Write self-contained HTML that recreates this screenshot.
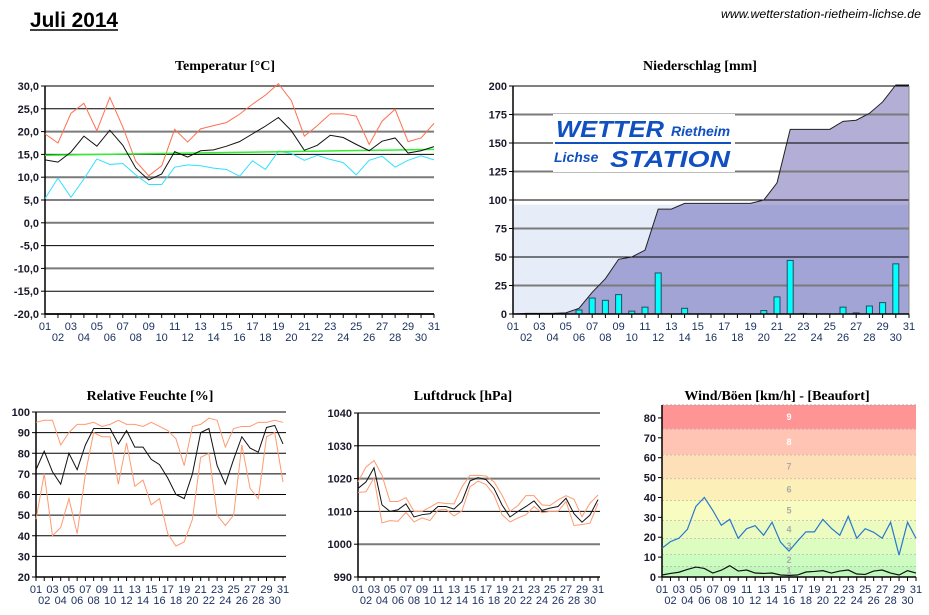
<!DOCTYPE html>
<html><head><meta charset="utf-8"><style>
html,body{margin:0;padding:0;background:#fff;width:929px;height:615px;overflow:hidden}
svg text{font-family:"Liberation Sans",sans-serif}
.t{font-family:"Liberation Serif",serif;font-weight:bold;font-size:14px;fill:#000}
</style></head><body>
<svg id="s" width="929" height="615" xmlns="http://www.w3.org/2000/svg">
<text x="30" y="27" font-size="21" font-weight="bold" fill="#000" textLength="88" lengthAdjust="spacingAndGlyphs">Juli 2014</text>
<line x1="30" y1="30" x2="118" y2="30" stroke="#000" stroke-width="1.5"/>
<text x="921" y="18" font-size="12" font-style="italic" text-anchor="end" fill="#000" textLength="200" lengthAdjust="spacingAndGlyphs">www.wetterstation-rietheim-lichse.de</text>
<text class="t" x="225" y="70" text-anchor="middle">Temperatur [°C]</text>
<text class="t" x="700" y="70" text-anchor="middle">Niederschlag [mm]</text>
<text class="t" x="150" y="400" text-anchor="middle">Relative Feuchte [%]</text>
<text class="t" x="463" y="400" text-anchor="middle">Luftdruck [hPa]</text>
<text class="t" x="777" y="400" text-anchor="middle">Wind/Böen [km/h] - [Beaufort]</text>
<g id="g"></g>
</svg>
<script>
var NS="http://www.w3.org/2000/svg",G=document.getElementById("g");
function el(n,a,t){var e=document.createElementNS(NS,n);for(var k in a)e.setAttribute(k,a[k]);if(t!=null)e.textContent=t;G.appendChild(e);return e;}
function chart(c){
 var X=function(i){return c.x0+(c.x1-c.x0)*i/30};
 var Y=function(v){return c.yb-(c.yb-c.yt)*(v-c.vmin)/(c.vmax-c.vmin)};
 c.X=X;c.Y=Y;
 if(c.bg)c.bg(c);
 var k=0;
 for(var v=c.vmin;v<=c.vmax+1e-9;v+=c.step,k++){
  var y=Y(v);
  if(!c.nogrid){var gray=(k%2==(c.par||0));
   el("line",{x1:c.x0,x2:c.gx1||c.x1,y1:y,y2:y,stroke:gray?"#7a7a7a":"#000","stroke-width":gray?2:1});}
  el("line",{x1:c.x0-4,x2:c.x0,y1:y,y2:y,stroke:"#000"});
  el("text",{x:c.x0-6,y:y+4,"text-anchor":"end","font-size":11,"font-weight":"bold",fill:"#1a1a2a"},c.fmt(v));
 }
 if(c.fg)c.fg(c);
 el("line",{x1:c.x0,x2:c.x0,y1:c.yt,y2:c.yb,stroke:"#000","stroke-width":1.5});
 el("line",{x1:c.x0,x2:c.gx1||c.x1,y1:c.yb,y2:c.yb,stroke:"#000","stroke-width":1.5});
 for(var i=0;i<31;i++){var x=X(i);
  el("line",{x1:x,x2:x,y1:c.yb,y2:c.yb+4,stroke:"#000"});
  var d=(i+1<10?"0":"")+(i+1);
  el("text",{x:x,y:c.yb+(i%2?27:16),"text-anchor":"middle","font-size":c.fs||11,fill:"#1c3260"},d);}
}
function line(c,d,col,w){el("polyline",{points:d.map(function(v,i){return c.X(i)+","+c.Y(v)}).join(" "),fill:"none",stroke:col,"stroke-width":w||1});}
function fmt1(v){return v.toFixed(1).replace(".",",")}
var T={x0:45,x1:434,yt:86,yb:314,vmin:-20,vmax:30,step:5,fmt:fmt1,par:0};
chart(T);
line(T,[19.5,17.5,24,26.2,20.2,27.5,21,13.5,10.3,12.5,20.5,17.7,20.6,21.3,22,23.8,26,28,30.5,26.8,19,21.3,23.9,23.9,23.4,17.2,22.3,24.9,17.8,18.6,21.8],"#ff7050");
line(T,[5.3,9.8,5.6,9.6,14,12.8,13,10.5,8.4,8.4,12.2,12.7,12.5,12,11.7,10.2,13.6,11.7,15.7,15.2,13.7,14.8,13.9,13.2,10.5,13.7,14.6,12.2,13.7,14.7,13.8],"#30e0ff");
el("line",{x1:45,x2:434,y1:T.Y(14.8),y2:T.Y(16.1),stroke:"#30f030","stroke-width":1.5});
line(T,[13.8,13.3,15.5,19,16.8,20.3,17,12,9.4,10.7,15.6,14.4,15.8,16,16.8,17.8,19.5,21.2,23.1,20.2,15.9,17,19.2,18.7,17.2,15.8,17.9,18.6,15.3,15.8,16.7],"#111");
var cum=[0,0.5,0.5,0.5,1,5,19,31,48,50,56,92,92,97,97,97,97,97,97,100,115,162,162,162,162,169,170,176,186,230,260];
var P={x0:513,x1:909,yt:86,yb:314,vmin:0,vmax:200,step:25,fmt:function(v){return ""+v},par:1,
 bg:function(c){
  el("rect",{x:513,y:c.Y(96),width:396,height:c.yb-c.Y(96),fill:"#e6edf8"});
  var pts=cum.map(function(v,i){return c.X(i)+","+Math.max(c.Y(v),c.yt)}).join(" ");
  el("clipPath",{id:"cp"});
  var cp=G.lastChild;var pg=document.createElementNS(NS,"polygon");pg.setAttribute("points",pts+" 909,314 513,314");cp.appendChild(pg);
  el("rect",{x:513,y:86,width:396,height:c.Y(96)-86,fill:"#b2aed6","clip-path":"url(#cp)"});
  el("rect",{x:513,y:c.Y(96),width:396,height:c.yb-c.Y(96),fill:"#a2a4d6","clip-path":"url(#cp)"});
 },
 fg:function(c){
  el("polyline",{points:cum.map(function(v,i){return c.X(i)+","+Math.max(c.Y(v),c.yt-1)}).join(" "),fill:"none",stroke:"#222","stroke-width":1});
  var b={6:3.5,7:14,8:12,9:17,10:2.5,11:6,12:36,14:5,20:3,21:15,22:47,23:0.5,26:6,27:1,28:7,29:10,30:44};
  for(var d in b){var x=c.X(d-1),y=c.Y(b[d]);el("rect",{x:x-3,y:y,width:6,height:c.yb-y,fill:"#00ffff",stroke:"#2a4a5a","stroke-width":1});}
  el("line",{x1:909,x2:909,y1:86,y2:314,stroke:"#888","stroke-width":1});
 }};
chart(P);
el("rect",{x:553,y:114,width:182,height:58,fill:"#fff"});
el("text",{x:556,y:137,"font-size":23,"font-weight":"bold","font-style":"italic",fill:"#1050c0",textLength:108,lengthAdjust:"spacingAndGlyphs"},"WETTER");
el("text",{x:671,y:136,"font-family":"Liberation Serif,serif","font-size":14,"font-weight":"bold","font-style":"italic",fill:"#1050c0"},"Rietheim");
el("line",{x1:555,x2:731,y1:143,y2:143,stroke:"#1050c0","stroke-width":2});
el("text",{x:554,y:162,"font-family":"Liberation Serif,serif","font-size":14,"font-weight":"bold","font-style":"italic",fill:"#1050c0"},"Lichse");
el("text",{x:610,y:167,"font-size":23,"font-weight":"bold","font-style":"italic",fill:"#1050c0",textLength:120,lengthAdjust:"spacingAndGlyphs"},"STATION");
var H={x0:36,x1:283,yt:412,yb:577,vmin:20,vmax:100,step:10,fmt:function(v){return ""+v},par:2,gx1:286};
chart(H);
line(H,[95,96,96,84,90,94,94,95,93,94,96,94,94,93,95,93,91,87,74,93,94,97,96,83,92,93,93,95,95,96,95],"#ff9a70");
line(H,[48,70,40,44,58,41,70,90,88,88,65,85,64,67,55,58,41,35,37,48,78,80,50,45,50,84,63,58,88,90,66],"#ff9a70");
line(H,[72,81,71,65,80,72,84,92,92,92,84.5,91,83,83,77,74.5,68,60,58,70,90,92,74,65,77,88,82.5,80.5,92.5,93.5,84.5],"#111");
var L={x0:358,x1:598,yt:413,yb:577,vmin:990,vmax:1040,step:10,fmt:function(v){return ""+v},par:1,gx1:600};
chart(L);
line(L,[1019,1023.5,1025.5,1021,1013,1013,1014.2,1010,1010,1011.3,1012.7,1012.4,1012.3,1017.5,1021,1021,1020.8,1019,1015,1010,1011.8,1014.8,1014.8,1012,1011.8,1013.5,1014.8,1013.7,1008.4,1012.5,1015],"#ff9a70");
line(L,[1015.8,1016,1020.2,1006.5,1007.2,1007,1009.7,1006.8,1008,1007.2,1010.4,1010.6,1008.6,1010.2,1017.5,1019.2,1018.2,1015,1009,1006.8,1008,1009,1011.5,1009.6,1010,1010,1013,1005.7,1006,1006.4,1012.4],"#ff9a70");
line(L,[1017,1019,1023.3,1012,1010,1010.5,1012.3,1008.3,1009,1009.3,1011.5,1011.5,1010.7,1013,1019.3,1020.3,1019.7,1017,1012,1008.3,1010,1011.5,1013.2,1010.3,1011,1011.5,1014,1009.3,1006.7,1008.9,1013.6],"#111");
var W={x0:662,x1:916,yt:405,yb:577,vmin:0,vmax:86.5,step:10,fmt:function(v){return ""+v},nogrid:true,
 bg:function(c){
  var b=[[0,1,"#c4f8c0"],[1,5.5,"#c0f8bc"],[5.5,11.5,"#ccfcc0"],[11.5,19.5,"#dcfcc0"],[19.5,28.5,"#ecfcc0"],[28.5,38.5,"#f8fcc0"],[38.5,49.5,"#fcf0b8"],[49.5,61.5,"#fde0b8"],[61.5,74.5,"#ffc4b4"],[74.5,86.5,"#ff9494"]];
  b.forEach(function(r,i){var y1=c.Y(r[1]),y0=c.Y(r[0]);el("rect",{x:c.x0,y:y1,width:c.x1-c.x0,height:y0-y1,fill:r[2]});
   if(i>0){el("line",{x1:c.x0,x2:c.x1,y1:y1,y2:y1,stroke:"#b0a0a0","stroke-dasharray":"2,2","stroke-width":1});
   el("text",{x:789,y:(y0+y1)/2+3,"font-family":"Liberation Serif,serif","font-size":9,"font-weight":"bold","text-anchor":"middle",fill:i>=8?"#fff":"#aaa"},""+i);}});
 }};
chart(W);
line(W,[14.5,17.8,19.5,24,35.5,40,33.5,26,29,19.5,24.3,25.8,21,27.5,17.5,13,18,22.7,22.7,29,24.5,21,30.5,19.5,24.3,22.5,19.5,27.5,11,27.5,19.5],"#2878d0",1.2);
line(W,[1,1.8,2.4,3.8,5,4.3,2,3.4,5.7,3,3.5,2,1.8,2,1,0.8,1,2.5,2.8,3.2,2,3,3.5,1.5,1.3,3,3.5,2,1,3.2,2],"#111",1.2);
</script>
</body></html>
